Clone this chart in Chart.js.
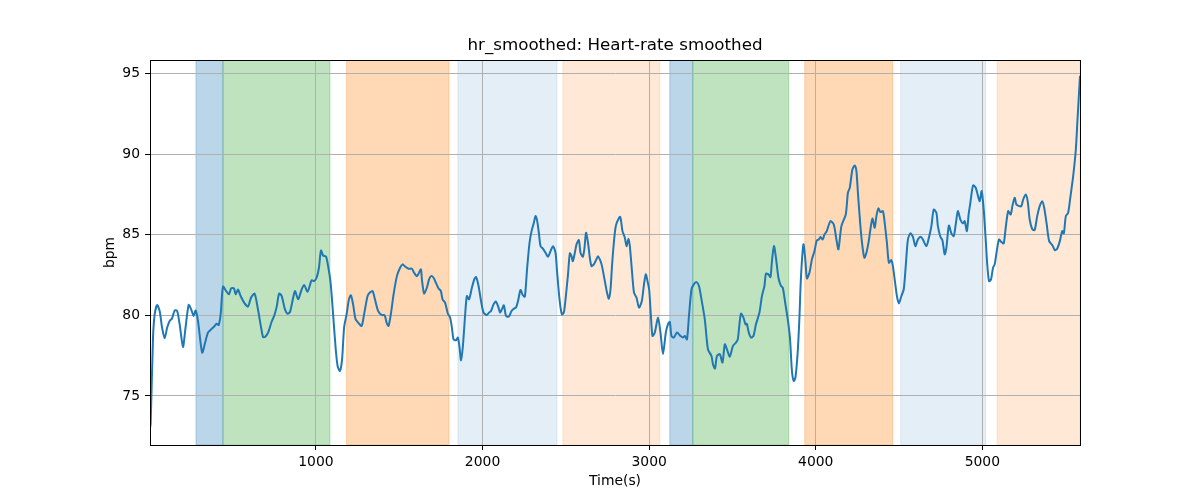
<!DOCTYPE html>
<html>
<head>
<meta charset="utf-8">
<script src="https://cdn.jsdelivr.net/npm/chart.js@4/dist/chart.umd.min.js"></script>
<style>
  html, body { margin: 0; padding: 0; background: #ffffff; }
  #wrap { width: 1200px; height: 500px; position: relative; }
</style>
</head>
<body>
<div id="wrap"><canvas id="c" width="1200" height="500"></canvas></div>
<script>
// ---- data ----
const titleText = "hr_smoothed: Heart-rate smoothed";
const xLabel = "Time(s)";
const yLabel = "bpm";
const xTicks = [1000, 2000, 3000, 4000, 5000];
const yTicks = [75, 80, 85, 90, 95];
const xRange = [4, 5586];
const yRange = [71.96, 95.83];

const times = [
  4,8,22,32,47,62,76,92,107,122,
  136,152,167,182,202,215,236,251,266,278,
  292,317,335,352,371,392,404,416,428,442,
  461,478,491,508,518,532,548,572,592,611,
  632,652,682,694,713,734,749,764,779,794,
  814,830,845,874,893,914,929,950,974,989,
  1004,1018,1030,1043,1060,1073,1088,1103,1118,1130,
  1144,1157,1169,1184,1198,1210,1223,1238,1253,1274,
  1289,1310,1324,1340,1354,1373,1394,1412,1426,1436,
  1451,1466,1486,1505,1520,1535,1556,1576,1589,1606,
  1616,1630,1636,1649,1666,1679,1691,1706,1720,1736,
  1750,1760,1775,1792,1805,1816,1826,1840,1852,1862,
  1871,1882,1895,1906,1919,1936,1952,1961,1976,1991,
  2006,2026,2039,2051,2066,2080,2096,2105,2116,2128,
  2141,2158,2174,2188,2201,2213,2228,2242,2254,2267,
  2282,2294,2308,2318,2327,2338,2348,2362,2378,2393,
  2408,2423,2438,2447,2458,2468,2477,2488,2498,2512,
  2524,2534,2542,2554,2564,2578,2588,2602,2612,2621,
  2633,2644,2654,2668,2681,2693,2708,2717,2734,2747,
  2758,2768,2777,2788,2798,2807,2826,2840,2854,2864,
  2876,2884,2896,2909,2924,2939,2956,2969,2980,2990,
  3000,3010,3020,3034,3053,3068,3083,3100,3113,3124,
  3134,3148,3167,3188,3203,3214,3227,3239,3254,3268,
  3284,3299,3314,3334,3353,3374,3383,3395,3407,3424,
  3440,3454,3467,3484,3503,3521,3532,3542,3551,3566,
  3578,3586,3598,3611,3626,3641,3662,3677,3692,3701,
  3716,3728,3737,3749,3761,3776,3791,3802,3818,3832,
  3845,3857,3868,3878,3892,3902,3911,3926,3938,3947,
  3962,3977,3992,4006,4018,4028,4042,4052,4066,4088,
  4108,4124,4136,4154,4180,4193,4204,4220,4234,4244,
  4253,4268,4280,4292,4304,4318,4328,4340,4354,4364,
  4376,4388,4403,4415,4427,4439,4454,4463,4475,4487,
  4499,4514,4528,4540,4553,4568,4583,4598,4613,4630,
  4643,4664,4679,4694,4708,4724,4733,4748,4760,4774,
  4784,4799,4814,4828,4840,4853,4868,4884,4894,4907,
  4918,4928,4944,4960,4974,4984,4996,5008,5020,5030,
  5040,5052,5064,5074,5088,5100,5114,5128,5140,5155,
  5170,5180,5194,5204,5221,5234,5245,5260,5272,5284,
  5300,5314,5329,5344,5359,5371,5385,5401,5421,5435,
  5449,5465,5479,5489,5501,5515,5529,5545,5561,5571,
  5586
];

const bpm = [
  73.0,73.3,78.6,80.06,80.64,80.27,79.26,78.58,79.24,79.65,
  79.8,80.3,80.27,79.44,78.04,79.03,80.64,80.37,79.96,80.3,
  79.65,77.69,78.31,78.93,79.13,79.34,79.48,79.4,80.06,81.78,
  81.51,81.3,81.67,81.67,81.3,81.6,81.2,80.74,80.54,81.1,
  81.34,80.37,78.66,78.66,78.93,79.6,79.96,80.51,81.34,81.2,
  80.37,80.1,80.23,81.5,80.99,81.6,81.88,81.47,82.17,82.12,
  82.33,82.95,84.02,83.71,83.65,83.05,82.02,80.06,78.0,76.86,
  76.55,77.28,79.24,80.06,80.99,81.24,80.68,79.75,79.55,79.34,
  80.06,81.2,81.41,81.5,80.99,80.27,80.02,80.0,79.49,79.34,
  80.17,81.3,82.43,82.95,83.16,83.03,82.89,82.89,82.64,82.43,
  82.58,82.85,82.23,81.36,81.71,82.23,82.43,82.33,82.02,81.67,
  81.5,80.99,80.79,80.1,79.86,79.24,78.51,78.45,78.62,78.0,
  77.21,78.1,79.96,81.2,80.99,81.71,82.27,82.37,81.82,80.89,
  80.17,80.02,80.17,80.27,80.68,80.85,80.48,80.17,80.37,80.62,
  79.96,79.92,80.27,80.41,80.48,80.89,81.57,81.24,81.16,82.85,
  84.5,85.22,85.74,86.15,85.9,85.12,84.29,84.13,83.88,83.63,
  83.98,84.29,83.88,82.74,81.41,80.48,80.06,80.17,80.99,82.43,
  83.84,83.67,83.36,83.88,84.4,84.66,83.88,83.63,84.19,85.12,
  84.5,83.57,83.05,83.16,83.42,83.67,83.36,83.05,82.12,81.41,
  81.03,81.6,83.05,84.5,85.43,85.78,86.11,85.22,84.81,84.29,
  84.75,84.29,82.85,81.41,81.1,80.48,80.89,81.92,82.54,82.12,
  81.6,80.06,78.72,78.93,79.86,78.93,77.59,78.93,79.44,79.59,
  78.72,78.62,78.93,78.72,78.62,78.72,78.51,79.96,81.6,81.92,
  82.06,81.82,80.99,79.75,77.89,77.48,76.97,76.7,77.48,77.59,
  77.07,78.2,77.89,77.44,78.1,78.31,78.51,79.44,80.1,79.86,
  79.44,79.48,78.93,78.62,78.72,79.44,80.17,81.2,81.82,82.58,
  82.54,82.37,83.36,84.29,83.57,82.33,81.82,81.71,80.68,79.75,
  78.62,76.55,75.93,76.14,77.79,79.86,82.33,84.4,83.36,82.29,
  82.64,83.47,83.98,84.64,84.7,84.85,84.7,85.0,85.22,85.84,
  85.63,84.7,84.09,85.53,86.25,87.6,87.9,89.04,89.29,88.94,
  87.6,85.53,84.29,83.57,83.88,84.6,85.33,86.0,85.43,86.15,
  86.63,86.4,86.46,85.63,84.5,83.26,83.42,83.05,82.12,81.2,
  80.74,81.2,81.6,83.05,84.7,85.08,84.87,84.29,84.7,84.87,
  84.7,84.29,84.81,85.53,86.56,86.36,85.53,84.87,84.66,83.78,
  84.19,85.57,85.08,84.91,85.63,86.46,85.94,85.7,85.84,85.22,
  86.3,86.98,88.05,87.91,87.39,87.08,87.7,86.56,84.7,83.05,
  82.12,82.23,82.95,83.16,84.09,84.7,84.54,84.46,85.43,86.46,
  86.25,86.77,87.29,86.87,86.77,86.77,87.18,87.49,87.08,85.94,
  85.33,85.29,86.15,86.77,87.08,86.67,85.74,84.6,84.33,84.04,
  84.13,84.6,85.22,85.08,86.15,86.36,87.39,88.63,90.28,92.14,
  94.85
];

const spanStarts = [280, 442, 1184, 1852, 2482, 3124, 3262, 3934, 4510, 5088];
const spanEnds   = [442, 1084, 1798, 2446, 3064, 3262, 3838, 4462, 5020, 5586];
const spanKinds  = ['blue','green','orange','lightblue','lightorange','blue','green','orange','lightblue','lightorange'];

// ---- styles ----
const spanColors = {
  blue: 'rgba(31,119,180,0.3)',
  green: 'rgba(44,160,44,0.3)',
  orange: 'rgba(255,127,14,0.3)',
  lightblue: 'rgba(31,119,180,0.12)',
  lightorange: 'rgba(255,127,14,0.17)'
};
const FONT = "'DejaVu Sans', sans-serif";

const points = times.map((t, i) => ({ x: t, y: bpm[i] }));

const bgPlugin = {
  id: 'bgAndSpans',
  beforeDraw(chart) {
    const { ctx, chartArea: a, scales } = chart;
    ctx.save();
    ctx.fillStyle = '#ffffff';
    ctx.fillRect(0, 0, chart.width, chart.height);
    ctx.beginPath();
    ctx.rect(a.left, a.top, a.right - a.left, a.bottom - a.top);
    ctx.clip();
    for (let i = 0; i < spanStarts.length; i++) {
      const x0 = scales.x.getPixelForValue(spanStarts[i]);
      const x1 = scales.x.getPixelForValue(spanEnds[i]);
      const col = spanColors[spanKinds[i]];
      ctx.fillStyle = col;
      ctx.fillRect(x0, a.top, x1 - x0, a.bottom - a.top);
      ctx.strokeStyle = col;
      ctx.lineWidth = 1;
      ctx.strokeRect(x0, a.top, x1 - x0, a.bottom - a.top);
    }
    ctx.restore();
  },
  afterDatasetsDraw(chart) {
    const { ctx, chartArea: a } = chart;
    ctx.save();
    ctx.strokeStyle = '#000000';
    ctx.lineWidth = 1;
    ctx.strokeRect(Math.round(a.left) + 0.5, Math.round(a.top) + 0.5,
                   Math.round(a.right - a.left), Math.round(a.bottom - a.top));
    ctx.restore();
  },
  afterDraw(chart) {
    const { ctx, chartArea: a } = chart;
    ctx.save();
    ctx.fillStyle = '#000000';
    ctx.textAlign = 'center';
    ctx.textBaseline = 'middle';
    ctx.font = "16.7px " + FONT;
    ctx.fillText(titleText, (a.left + a.right) / 2, 46);
    ctx.font = "13.9px " + FONT;
    ctx.fillText(xLabel, (a.left + a.right) / 2, 481);
    ctx.translate(110, (a.top + a.bottom) / 2);
    ctx.rotate(-Math.PI / 2);
    ctx.fillText(yLabel, 0, 0);
    ctx.restore();
  }
};

new Chart(document.getElementById('c'), {
  type: 'line',
  data: {
    datasets: [{
      data: points,
      borderColor: '#1f77b4',
      borderWidth: 2,
      pointRadius: 0,
      tension: 0.25,
      fill: false
    }]
  },
  options: {
    responsive: false,
    animation: false,
    devicePixelRatio: 1,
    layout: { padding: { top: 60, right: 120, bottom: 0, left: 0 } },
    plugins: { legend: { display: false }, title: { display: false }, tooltip: { enabled: false } },
    scales: {
      x: {
        type: 'linear',
        min: xRange[0], max: xRange[1],
        afterFit(s) { s.height = 55; },
        afterBuildTicks(s) { s.ticks = xTicks.map(v => ({ value: v })); },
        grid: { color: '#b0b0b0', lineWidth: 1, drawTicks: true, tickLength: 5, tickColor: '#000000' },
        border: { display: true, color: '#000000', width: 1 },
        ticks: { color: '#000000', font: { family: FONT, size: 13.9 }, padding: 4, maxRotation: 0, autoSkip: false,
                 callback: v => String(v) }
      },
      y: {
        type: 'linear',
        min: yRange[0], max: yRange[1],
        afterFit(s) { s.width = 150; },
        afterBuildTicks(s) { s.ticks = yTicks.map(v => ({ value: v })); },
        grid: { color: '#b0b0b0', lineWidth: 1, drawTicks: true, tickLength: 5, tickColor: '#000000' },
        border: { display: true, color: '#000000', width: 1 },
        ticks: { color: '#000000', font: { family: FONT, size: 13.9 }, padding: 5, autoSkip: false,
                 callback: v => String(v) }
      }
    }
  },
  plugins: [bgPlugin]
});
</script>
</body>
</html>
